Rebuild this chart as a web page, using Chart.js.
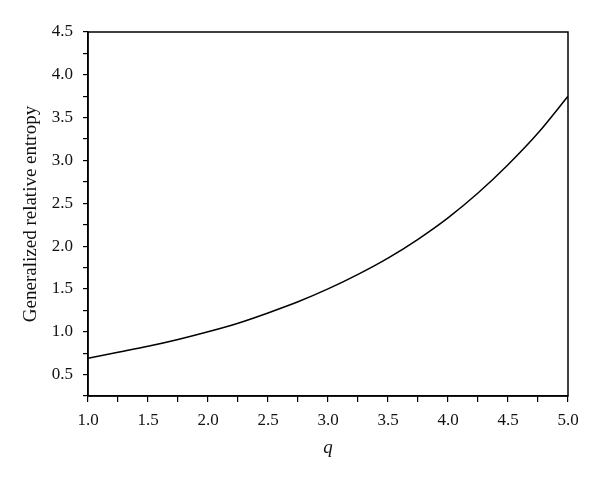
<!DOCTYPE html>
<html>
<head>
<meta charset="utf-8">
<script src="https://cdn.jsdelivr.net/npm/chart.js@4/dist/chart.umd.min.js"></script>
<style>
  html, body { margin: 0; padding: 0; background: #fff; }
  #wrap { width: 600px; height: 478px; }
</style>
</head>
<body>
<div id="wrap"><canvas id="entropyChart"></canvas></div>
<script>
// values
var qValues = [1.0, 1.25, 1.5, 1.75, 2.0, 2.25, 2.5, 2.75, 3.0, 3.25, 3.5, 3.75, 4.0, 4.25, 4.5, 4.75, 5.0];
var entropyValues = [0.69, 0.76, 0.83, 0.91, 1.00, 1.10, 1.22, 1.35, 1.50, 1.67, 1.86, 2.08, 2.33, 2.62, 2.95, 3.32, 3.75];
var xTickRange = [1.0, 5.0];
var yTickRange = [0.25, 4.5];

var serif = '"Liberation Serif", "DejaVu Serif", serif';

// draws the closed frame around the plot
var frameBox = {
    id: 'frameBox',
    afterDraw: function(chart) {
        var a = chart.chartArea;
        var ctx = chart.ctx;
        ctx.save();
        ctx.strokeStyle = '#000';
        ctx.lineWidth = 1.5;
        ctx.strokeRect(a.left, a.top, a.right - a.left, a.bottom - a.top);
        ctx.restore();
    }
};

function halfLabel(v) {
    var r = Math.round(v * 100) / 100;
    return (Math.abs(r * 2 - Math.round(r * 2)) < 1e-6) ? r.toFixed(1) : '';
}

var points = qValues.map(function(q, i) { return { x: q, y: entropyValues[i] }; });

new Chart(document.getElementById('entropyChart'), {
    type: 'line',
    data: {
        datasets: [{
            data: points,
            borderColor: '#000',
            borderWidth: 1.5,
            pointRadius: 0,
            cubicInterpolationMode: 'monotone',
            fill: false
        }]
    },
    options: {
        responsive: true,
        maintainAspectRatio: false,
        animation: false,
        layout: { padding: { top: 32, right: 32, bottom: 19, left: 20 } },
        plugins: { legend: { display: false }, tooltip: { enabled: false } },
        scales: {
            x: {
                type: 'linear',
                min: xTickRange[0],
                max: xTickRange[1],
                border: { display: true, color: '#000', width: 1.5 },
                grid: { display: true, drawOnChartArea: false, color: '#000', tickLength: 6, lineWidth: 1.2 },
                ticks: {
                    stepSize: 0.25,
                    autoSkip: false,
                    maxRotation: 0,
                    padding: 8,
                    color: '#111',
                    font: { family: serif, size: 17 },
                    callback: function(v) { return halfLabel(v); }
                },
                title: {
                    display: true,
                    text: 'q',
                    color: '#111',
                    font: { family: serif, size: 19, style: 'italic' },
                    padding: { top: 2, bottom: 0 }
                },
                afterFit: function(s) { s.height = 63; }
            },
            y: {
                min: yTickRange[0],
                max: yTickRange[1],
                border: { display: true, color: '#000', width: 1.5 },
                grid: { display: true, drawOnChartArea: false, color: '#000', tickLength: 5, lineWidth: 1.2 },
                ticks: {
                    stepSize: 0.25,
                    autoSkip: false,
                    padding: 10,
                    color: '#111',
                    font: { family: serif, size: 17 },
                    callback: function(v) { return halfLabel(v); }
                },
                title: {
                    display: true,
                    text: 'Generalized relative entropy',
                    color: '#111',
                    font: { family: serif, size: 19 },
                    padding: { top: 0, bottom: 6 }
                },
                afterFit: function(s) { s.width = 68; }
            }
        }
    },
    plugins: [frameBox]
});
</script>
</body>
</html>
